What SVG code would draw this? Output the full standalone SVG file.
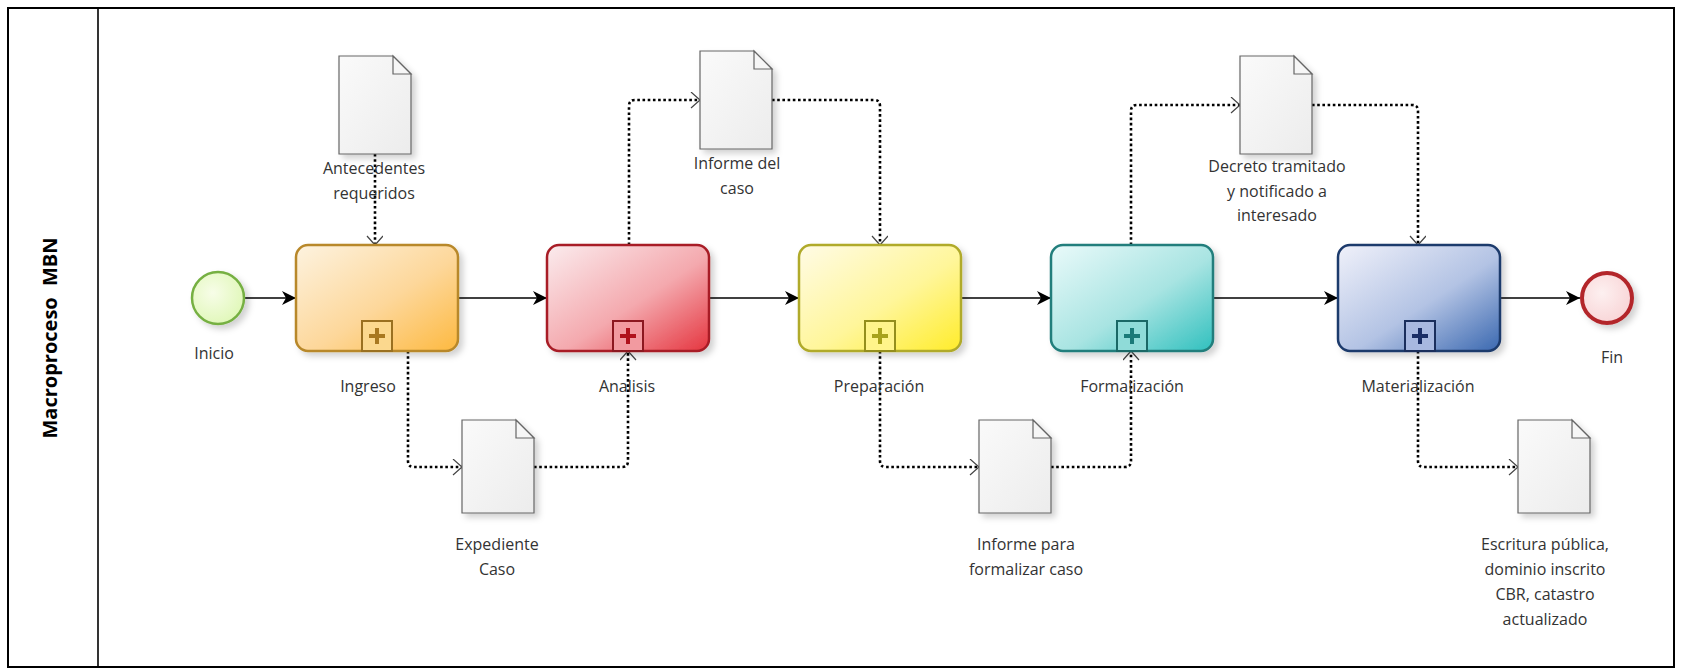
<svg xmlns="http://www.w3.org/2000/svg" width="1682" height="669" viewBox="0 0 1682 669">
<style>
.lbl{font-family:"Open Sans","Noto Sans","Liberation Sans",sans-serif;font-size:16px;fill:#333;text-anchor:middle}
.lane{font-family:"Open Sans","Liberation Sans",sans-serif;font-size:20px;font-weight:bold;fill:#000;text-anchor:middle;word-spacing:6px}
.flow{fill:none;stroke:#000;stroke-width:1.6}
.assoc{fill:none;stroke:#000;stroke-width:2.6;stroke-dasharray:2.6 2.6}
.doc{fill:url(#gDoc);stroke:#666;stroke-width:1.2}
.fold{fill:#f6f6f6;stroke:#666;stroke-width:1.2}
</style>
<defs>
<filter id="sh" x="-20%" y="-20%" width="150%" height="150%">
<feDropShadow dx="4" dy="4" stdDeviation="3" flood-color="#000" flood-opacity="0.18"/>
</filter>
<linearGradient id="gDoc" x1="0" y1="0" x2="1" y2="1"><stop offset="0" stop-color="#fafafa"/><stop offset="1" stop-color="#ececec"/></linearGradient>
<linearGradient id="gIng" x1="0" y1="0" x2="1" y2="1"><stop offset="0" stop-color="#fdf3e0"/><stop offset="0.55" stop-color="#fdd79a"/><stop offset="1" stop-color="#fdb940"/></linearGradient>
<linearGradient id="gAna" x1="0" y1="0" x2="1" y2="1"><stop offset="0" stop-color="#fbecee"/><stop offset="0.55" stop-color="#f4a9ae"/><stop offset="1" stop-color="#e5353f"/></linearGradient>
<linearGradient id="gPre" x1="0" y1="0" x2="1" y2="1"><stop offset="0" stop-color="#fffbe6"/><stop offset="0.55" stop-color="#fff69a"/><stop offset="1" stop-color="#ffec2a"/></linearGradient>
<linearGradient id="gFor" x1="0" y1="0" x2="1" y2="1"><stop offset="0" stop-color="#eafafa"/><stop offset="0.55" stop-color="#a8e4e2"/><stop offset="1" stop-color="#30c0be"/></linearGradient>
<linearGradient id="gMat" x1="0" y1="0" x2="1" y2="1"><stop offset="0" stop-color="#f0f1fa"/><stop offset="0.55" stop-color="#b3c3e4"/><stop offset="1" stop-color="#3a68b0"/></linearGradient>
<radialGradient id="gStart" cx="0.4" cy="0.4" r="0.7"><stop offset="0" stop-color="#f7fde8"/><stop offset="1" stop-color="#def7b4"/></radialGradient>
<radialGradient id="gEnd" cx="0.4" cy="0.4" r="0.7"><stop offset="0" stop-color="#fdf0f0"/><stop offset="1" stop-color="#f8d2d4"/></radialGradient>
<marker id="arr" markerUnits="userSpaceOnUse" markerWidth="16" markerHeight="14" refX="14" refY="7" orient="auto">
<path d="M0,0 L14,7 L0,14 L4,7 z" fill="#000"/>
</marker>
<marker id="chev" markerUnits="userSpaceOnUse" markerWidth="12" markerHeight="18" refX="10" refY="8" orient="auto">
<path d="M1,0 L10,8 L1,16" fill="none" stroke="#444" stroke-width="1.2"/>
</marker>
</defs>
<rect x="0" y="0" width="1682" height="669" fill="#fff"/>
<g id="pool">
<rect x="8" y="8" width="1666" height="659" fill="none" stroke="#000" stroke-width="2"/>
<line x1="98" y1="8" x2="98" y2="667" stroke="#000" stroke-width="1.6"/>
<text class="lane" transform="translate(57,338) rotate(-90)">Macroproceso MBN</text>
</g>
<g id="connectors">
<line class="flow" x1="245" y1="298" x2="296" y2="298" marker-end="url(#arr)"/>
<line class="flow" x1="458" y1="298" x2="547" y2="298" marker-end="url(#arr)"/>
<line class="flow" x1="709" y1="298" x2="799" y2="298" marker-end="url(#arr)"/>
<line class="flow" x1="961" y1="298" x2="1051" y2="298" marker-end="url(#arr)"/>
<line class="flow" x1="1212" y1="298" x2="1338" y2="298" marker-end="url(#arr)"/>
<line class="flow" x1="1500" y1="298" x2="1580" y2="298" marker-end="url(#arr)"/>
<path class="assoc" d="M375,154 V245" marker-end="url(#chev)"/>
<path class="assoc" d="M629,245 V106 Q629,100 635,100 H700" marker-end="url(#chev)"/>
<path class="assoc" d="M772,100 H874 Q880,100 880,106 V245" marker-end="url(#chev)"/>
<path class="assoc" d="M408,351 V461 Q408,467 414,467 H462" marker-end="url(#chev)"/>
<path class="assoc" d="M534,467 H622 Q628,467 628,461 V351" marker-end="url(#chev)"/>
<path class="assoc" d="M880,351 V461 Q880,467 886,467 H979" marker-end="url(#chev)"/>
<path class="assoc" d="M1051,467 H1125 Q1131,467 1131,461 V351" marker-end="url(#chev)"/>
<path class="assoc" d="M1131,245 V111 Q1131,105 1137,105 H1240" marker-end="url(#chev)"/>
<path class="assoc" d="M1312,105 H1412 Q1418,105 1418,111 V245" marker-end="url(#chev)"/>
<path class="assoc" d="M1418,351 V461 Q1418,467 1424,467 H1518" marker-end="url(#chev)"/>
</g>
<g id="inicio">
<circle cx="218" cy="298" r="26" fill="url(#gStart)" stroke="#76b043" stroke-width="2.5" filter="url(#sh)"/>
<text class="lbl" x="214" y="359">Inicio</text>
</g>
<g id="fin">
<circle cx="1607" cy="298" r="25" fill="url(#gEnd)" stroke="#b3262c" stroke-width="4" filter="url(#sh)"/>
<text class="lbl" x="1612" y="363">Fin</text>
</g>
<g id="ingreso">
<rect x="296" y="245" width="162" height="106" rx="12" fill="url(#gIng)" stroke="#b8882a" stroke-width="2.5" filter="url(#sh)"/>
<rect x="362" y="321" width="30" height="30" fill="#fbd88e" stroke="#9a7020" stroke-width="2"/>
<path d="M377,328 V344 M369,336 H385" stroke="#a87820" stroke-width="4"/>
<text class="lbl" x="368" y="392">Ingreso</text>
</g>
<g id="analisis">
<rect x="547" y="245" width="162" height="106" rx="12" fill="url(#gAna)" stroke="#a81e27" stroke-width="2.5" filter="url(#sh)"/>
<rect x="613" y="321" width="30" height="30" fill="#f29aa0" stroke="#8c1820" stroke-width="2"/>
<path d="M628,328 V344 M620,336 H636" stroke="#b0121c" stroke-width="4"/>
<text class="lbl" x="627" y="392">Analisis</text>
</g>
<g id="preparacion">
<rect x="799" y="245" width="162" height="106" rx="12" fill="url(#gPre)" stroke="#b0aa2a" stroke-width="2.5" filter="url(#sh)"/>
<rect x="865" y="321" width="30" height="30" fill="#fff48a" stroke="#948e1c" stroke-width="2"/>
<path d="M880,328 V344 M872,336 H888" stroke="#a8a21a" stroke-width="4"/>
<text class="lbl" x="879" y="392">Preparación</text>
</g>
<g id="formalizacion">
<rect x="1051" y="245" width="162" height="106" rx="12" fill="url(#gFor)" stroke="#217e7c" stroke-width="2.5" filter="url(#sh)"/>
<rect x="1117" y="321" width="30" height="30" fill="#8fdbd8" stroke="#1a6866" stroke-width="2"/>
<path d="M1132,328 V344 M1124,336 H1140" stroke="#1a7a78" stroke-width="4"/>
<text class="lbl" x="1132" y="392">Formalización</text>
</g>
<g id="materializacion">
<rect x="1338" y="245" width="162" height="106" rx="12" fill="url(#gMat)" stroke="#1e3a6c" stroke-width="2.5" filter="url(#sh)"/>
<rect x="1405" y="321" width="30" height="30" fill="#a7b8e0" stroke="#1a2e5c" stroke-width="2"/>
<path d="M1420,328 V344 M1412,336 H1428" stroke="#1a2e66" stroke-width="4"/>
<text class="lbl" x="1418" y="392">Materialización</text>
</g>
<g id="antecedentes">
<path class="doc" filter="url(#sh)" d="M339,56 H393 L411,74 V154 H339 Z"/>
<path class="fold" d="M393,56 V74 H411 Z"/>
<text class="lbl" x="374" y="174">Antecedentes</text>
<text class="lbl" x="374" y="199">requeridos</text>
</g>
<g id="informe-caso">
<path class="doc" filter="url(#sh)" d="M700,51 H754 L772,69 V149 H700 Z"/>
<path class="fold" d="M754,51 V69 H772 Z"/>
<text class="lbl" x="737" y="169">Informe del</text>
<text class="lbl" x="737" y="194">caso</text>
</g>
<g id="decreto">
<path class="doc" filter="url(#sh)" d="M1240,56 H1294 L1312,74 V154 H1240 Z"/>
<path class="fold" d="M1294,56 V74 H1312 Z"/>
<text class="lbl" x="1277" y="172">Decreto tramitado</text>
<text class="lbl" x="1277" y="197">y notificado a</text>
<text class="lbl" x="1277" y="221">interesado</text>
</g>
<g id="expediente">
<path class="doc" filter="url(#sh)" d="M462,420 H516 L534,438 V513 H462 Z"/>
<path class="fold" d="M516,420 V438 H534 Z"/>
<text class="lbl" x="497" y="550">Expediente</text>
<text class="lbl" x="497" y="575">Caso</text>
</g>
<g id="informe-formalizar">
<path class="doc" filter="url(#sh)" d="M979,420 H1033 L1051,438 V513 H979 Z"/>
<path class="fold" d="M1033,420 V438 H1051 Z"/>
<text class="lbl" x="1026" y="550">Informe para</text>
<text class="lbl" x="1026" y="575">formalizar caso</text>
</g>
<g id="escritura">
<path class="doc" filter="url(#sh)" d="M1518,420 H1572 L1590,438 V513 H1518 Z"/>
<path class="fold" d="M1572,420 V438 H1590 Z"/>
<text class="lbl" x="1545" y="550">Escritura pública,</text>
<text class="lbl" x="1545" y="575">dominio inscrito</text>
<text class="lbl" x="1545" y="600">CBR, catastro</text>
<text class="lbl" x="1545" y="625">actualizado</text>
</g>
</svg>
